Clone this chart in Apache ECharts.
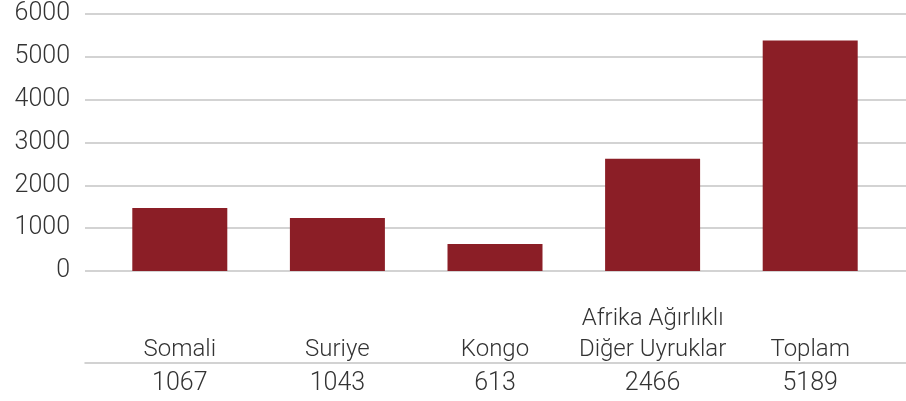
<!DOCTYPE html>
<html>
<head>
<meta charset="utf-8">
<script src="https://cdn.jsdelivr.net/npm/echarts@6/dist/echarts.min.js"></script>
<style>
  html, body { margin: 0; padding: 0; background: #fff; }
  #chart { width: 906px; height: 401px; }
</style>
</head>
<body>
<div id="chart"></div>
<script>
var categories = ['Somali', 'Suriye', 'Kongo', 'Afrika Ağırlıklı\nDiğer Uyruklar', 'Toplam'];
var barValues = [1470, 1240, 630, 2620, 5380];
var tableValues = ['1067', '1043', '613', '2466', '5189'];
var yTicks = [0, 1000, 2000, 3000, 4000, 5000, 6000];

var chartDom = document.getElementById('chart');
var myChart = echarts.init(chartDom);
var option;

var font = 'Roboto';
var textColor = '#333333';
var lineColor = '#c4c4c4';

option = {
  animation: false,
  grid: [
    // background grid: gridlines and y labels across the full width
    { left: 85, right: 0, top: 14, bottom: 130 },
    // bar grid
    { left: 101, width: 788, top: 14, bottom: 130 }
  ],
  xAxis: [
    {
      gridIndex: 0,
      type: 'category',
      data: categories,
      offset: 92,
      axisLine: { show: true, onZero: false, lineStyle: { color: lineColor, width: 1.5 } },
      axisTick: { show: false },
      axisLabel: { show: false }
    },
    {
      gridIndex: 1,
      type: 'category',
      data: categories,
      axisLine: { show: false },
      axisTick: { show: false },
      axisLabel: {
        margin: 94,
        verticalAlign: 'bottom',
        fontFamily: font,
        fontWeight: 300,
        fontSize: 24,
        lineHeight: 31,
        color: textColor,
        interval: 0
      }
    },
    {
      gridIndex: 1,
      type: 'category',
      position: 'bottom',
      data: tableValues,
      axisLine: { show: false },
      axisTick: { show: false },
      axisLabel: {
        margin: 101,
        verticalAlign: 'top',
        fontFamily: font,
        fontWeight: 300,
        fontSize: 25,
        lineHeight: 24,
        color: textColor,
        interval: 0
      }
    }
  ],
  yAxis: [
    {
      gridIndex: 0,
      type: 'value',
      min: yTicks[0],
      max: yTicks[yTicks.length - 1],
      interval: 1000,
      axisLine: { show: false },
      axisTick: { show: false },
      splitLine: { lineStyle: { color: lineColor, width: 1.5 } },
      axisLabel: {
        margin: 15,
        fontFamily: font,
        fontWeight: 300,
        fontSize: 25,
        color: textColor,
        formatter: function (v) { return String(v); }
      }
    },
    {
      gridIndex: 1,
      type: 'value',
      min: yTicks[0],
      max: yTicks[yTicks.length - 1],
      interval: 1000,
      show: false
    }
  ],
  series: [
    {
      type: 'bar',
      xAxisIndex: 1,
      yAxisIndex: 1,
      data: barValues,
      barWidth: 95,
      itemStyle: { color: '#8b1e26' }
    }
  ]
};

option && myChart.setOption(option);
</script>
</body>
</html>
